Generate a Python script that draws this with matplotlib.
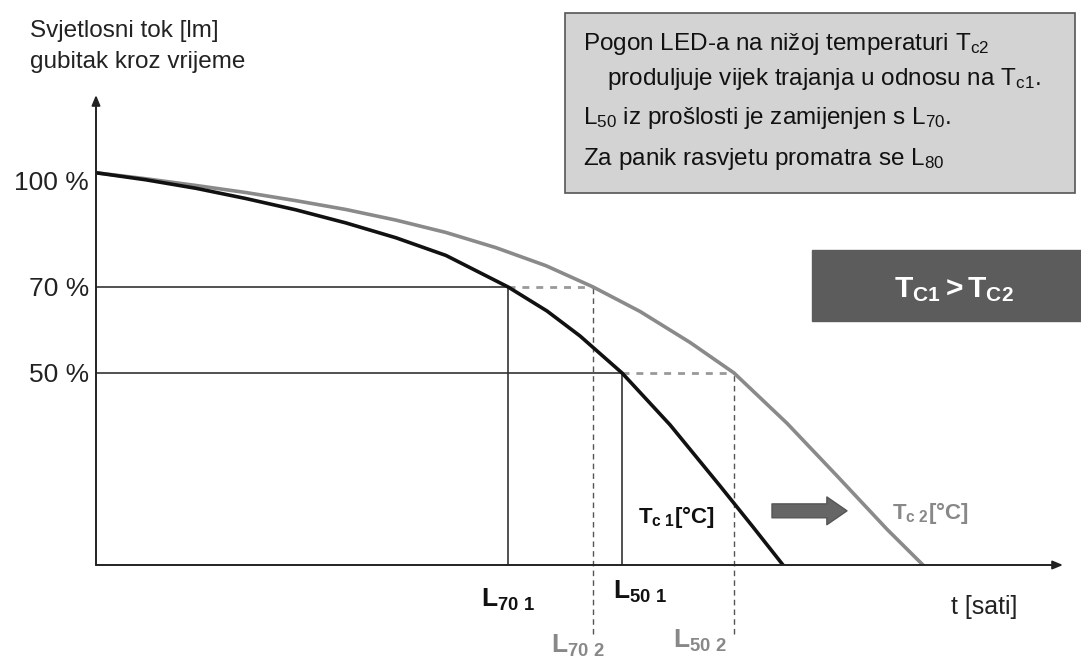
import numpy as np
import matplotlib.pyplot as plt
from matplotlib.patches import Rectangle

plt.rcParams['font.family'] = ['Liberation Sans', 'DejaVu Sans']
plt.rcParams['mathtext.fontset'] = 'custom'
plt.rcParams['mathtext.rm'] = 'Liberation Sans'
plt.rcParams['mathtext.it'] = 'Liberation Sans'
plt.rcParams['mathtext.bf'] = 'Liberation Sans:bold'

# schematic data (t in arbitrary time units, flux in %)
t_c1 = [0, 5, 10, 15, 20, 25, 30, 35, 41.2, 45.1, 48.4, 52.6, 57.4, 62.4, 65.7, 68.7]
flux_c1 = [102.3, 100.3, 97.9, 95.0, 91.8, 88.1, 83.9, 78.9, 70, 64.4, 58.6, 50,
           36.5, 20.6, 9.9, 0]
t_c2 = [0, 5, 10, 15, 20, 25, 30, 35, 40, 45, 49.7, 54.4, 59.4, 63.8, 69.1, 74.1, 79.1, 82.7]
flux_c2 = [102.3, 100.6, 98.7, 96.7, 94.4, 91.9, 88.9, 85.4, 81.1, 76.0, 70, 64.3, 57.1,
           50, 36.9, 23.2, 9.3, 0]

levels = [100, 70, 50]
level_labels = ['100 %', '70 %', '50 %']
L70_1, L50_1 = 41.2, 52.6
L70_2, L50_2 = 49.7, 63.8

# the drawing is not linear in %, so map % to drawing height piecewise
pct_pts = [-60, 0, 50, 70, 100, 130]
h_pts = [-230, 0, 192, 278, 384, 490]


def fwd(p):
    return np.interp(p, pct_pts, h_pts)


def inv(h):
    return np.interp(h, h_pts, pct_pts)


fig = plt.figure(figsize=(10.81, 6.61), dpi=100)
W, H = 1081, 661
ax = fig.add_axes([96 / W, (H - 565) / H, (1063 - 96) / W, (565 - 95) / H])
ax.set_yscale('function', functions=(fwd, inv))
ax.set_xlim(0, 96.7)
ax.set_ylim(0, 124.3)
for s in ax.spines.values():
    s.set_visible(False)
ax.set_xticks([])
ax.set_yticks(levels)
ax.set_yticklabels(level_labels, fontsize=19, color='#222')
ax.tick_params(axis='y', length=0, pad=5)

# axes with arrows
ax.annotate('', xy=(0, 1), xytext=(0, 0), xycoords='axes fraction',
            arrowprops=dict(arrowstyle='-|>,head_width=0.25,head_length=0.6',
                            color='#222', lw=1.4, shrinkA=0, shrinkB=0))
ax.annotate('', xy=(1, 0), xytext=(0, 0), xycoords='axes fraction',
            arrowprops=dict(arrowstyle='-|>,head_width=0.25,head_length=0.6',
                            color='#222', lw=1.4, shrinkA=0, shrinkB=0))

# guide lines
ax.plot([0, L70_1], [70, 70], color='#333', lw=1.2)
ax.plot([0, L50_1], [50, 50], color='#333', lw=1.2)
ax.plot([L70_1, L70_2], [70, 70], color='#999', lw=2, ls=(0, (2.5, 2.5)))
ax.plot([L50_1, L50_2], [50, 50], color='#999', lw=2, ls=(0, (2.5, 2.5)))
ax.plot([L70_1, L70_1], [0, 70], color='#333', lw=1.2)
ax.plot([L50_1, L50_1], [0, 50], color='#333', lw=1.2)
ax.plot([L70_2, L70_2], [-18, 70], color='#555', lw=1, ls=(0, (4, 3)), clip_on=False)
ax.plot([L50_2, L50_2], [-18, 50], color='#555', lw=1, ls=(0, (4, 3)), clip_on=False)

# curves
ax.plot(t_c2, flux_c2, color='#8a8a8a', lw=2.6, solid_joinstyle='round')
ax.plot(t_c1, flux_c1, color='#111111', lw=2.6, solid_joinstyle='round')

# labels
ax.text(41.2, -9.1, r'$\mathbf{L_{70\ 1}}$', fontsize=19, ha='center', va='center', color='#111')
ax.text(54.4, -7.0, r'$\mathbf{L_{50\ 1}}$', fontsize=19, ha='center', va='center', color='#111')
ax.text(48.2, -21, r'$\mathbf{L_{70\ 2}}$', fontsize=19, ha='center', va='center', color='#888')
ax.text(60.4, -19.8, r'$\mathbf{L_{50\ 2}}$', fontsize=19, ha='center', va='center', color='#888')
ax.text(88.8, -10.9, 't [sati]', fontsize=18, ha='center', va='center', color='#222')
ax.text(58.0, 12.5, r'$\mathbf{T_{c\ 1}[°C]}$', fontsize=16, ha='center', va='center', color='#111')
ax.text(83.4, 13.5, r'$\mathbf{T_{c\ 2}[°C]}$', fontsize=16, ha='center', va='center', color='#888')
ax.annotate('', xy=(75.1, 14.1), xytext=(67.6, 14.1),
            arrowprops=dict(arrowstyle='simple,head_width=2.0,head_length=1.45,tail_width=1.0',
                            fc='#666', ec='#555', shrinkA=0, shrinkB=0, mutation_scale=10))

# y axis title
fig.text(30 / W, 1 - 37 / H, 'Svjetlosni tok [lm]', fontsize=17.5, va='baseline', color='#222')
fig.text(30 / W, 1 - 68 / H, 'gubitak kroz vrijeme', fontsize=17.5, va='baseline', color='#222')

# info box
fig.add_artist(Rectangle((565 / W, 1 - 193 / H), 510 / W, 180 / H, transform=fig.transFigure,
                         fc='#d3d3d3', ec='#555', lw=1.2))
fig.text(583 / W, 1 - 50 / H, r'Pogon LED-a na nižoj temperaturi T$_{\mathrm{c2}}$',
         fontsize=17.5, va='baseline', color='#111')
fig.text(607 / W, 1 - 85 / H, r'produljuje vijek trajanja u odnosu na T$_{\mathrm{c1}}$.',
         fontsize=17.5, va='baseline', color='#111')
fig.text(583 / W, 1 - 124 / H, r'L$_{\mathrm{50}}$ iz prošlosti je zamijenjen s L$_{\mathrm{70}}$.',
         fontsize=17.5, va='baseline', color='#111')
fig.text(583 / W, 1 - 165 / H, r'Za panik rasvjetu promatra se L$_{\mathrm{80}}$',
         fontsize=17.5, va='baseline', color='#111')

# dark box
fig.add_artist(Rectangle((812 / W, 1 - 321 / H), 269 / W, 71 / H, transform=fig.transFigure,
                         fc='#5c5c5c', ec='#5c5c5c'))
fig.text(954 / W, 1 - 290 / H, r'$\mathbf{T_{C1} > T_{C2}}$', fontsize=21.5,
         ha='center', va='center', color='white')

fig.savefig('out.png', dpi=100)
